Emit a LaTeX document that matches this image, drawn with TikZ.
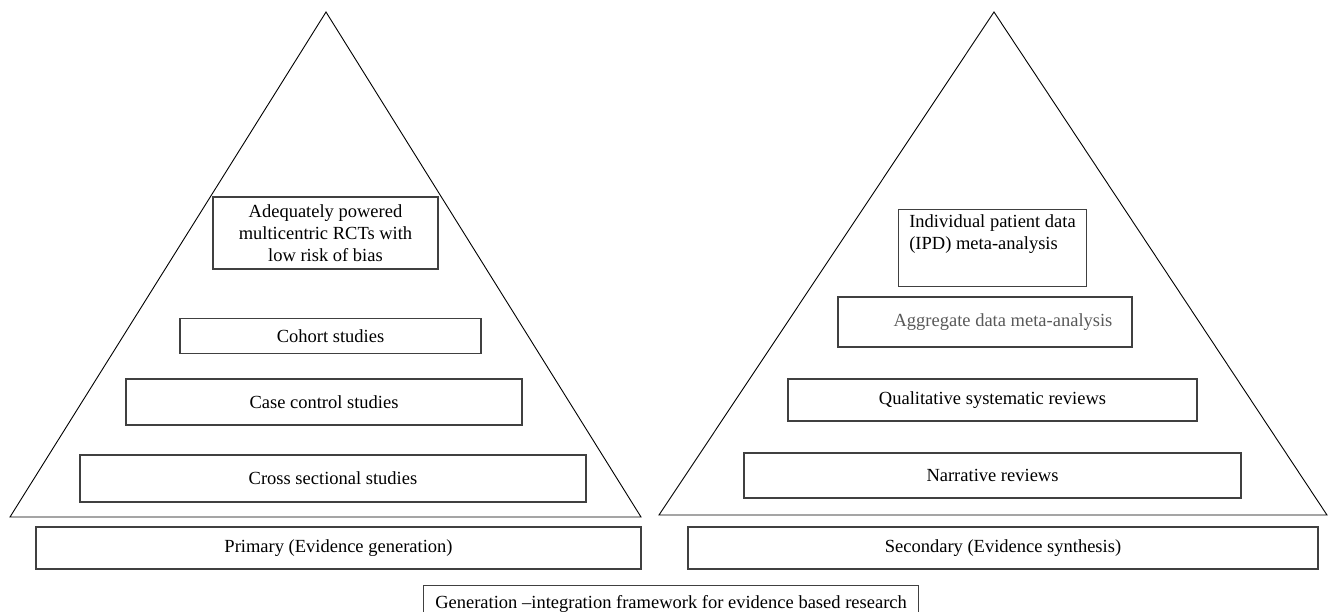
\documentclass[tikz,border=0pt]{standalone}
\usepackage{fontspec}
\setmainfont{Liberation Serif}
\usetikzlibrary{calc}

\tikzset{
  lvlbox/.style={draw=black!75,line width=1.1pt,inner sep=0pt,align=center,
    font=\fontsize{18.5}{22}\selectfont},
  pyr/.style={draw=black,line width=0.9pt}
}

\begin{document}
\begin{tikzpicture}[x=1pt,y=-1pt]
\useasboundingbox (0,0) rectangle (1328,611);

% left pyramid
\draw[pyr] (326,12) coordinate (lapex) -- (641,517) coordinate (lright) -- (10,517) coordinate (lleft) -- cycle;
\node[lvlbox,minimum width=225,minimum height=72] (rct) at (325.5,233) {Adequately powered\\multicentric RCTs with\\low risk of bias};
\node[lvlbox,minimum width=301,minimum height=35] (cohort) at (330.5,336) {Cohort studies};
\node[lvlbox,minimum width=396,minimum height=46] (casecon) at (324,402) {Case control studies};
\node[lvlbox,minimum width=506,minimum height=47] (cross) at (333,478.5) {Cross sectional studies};
\node[lvlbox,minimum width=605,minimum height=42] (primary) at (338.5,548) {Primary (Evidence generation)};

% right pyramid
\draw[pyr] (994,12) coordinate (rapex) -- (1327,515) coordinate (rright) -- (659,515) coordinate (rleft) -- cycle;
\node[lvlbox,minimum width=188,minimum height=68,align=left,anchor=north west,inner xsep=10pt,inner ysep=5pt] (ipd) at (898,209) {Individual patient data\\(IPD) meta-analysis\\[10pt]};
\node[lvlbox,minimum width=294,minimum height=50,text=black!65] (aggr) at (985,322) {\hspace{36pt}Aggregate data meta-analysis};
\node[lvlbox,minimum width=409,minimum height=42] (qual) at (992.5,400) {Qualitative systematic reviews};
\node[lvlbox,minimum width=497,minimum height=45] (narr) at (992.5,475.5) {Narrative reviews};
\node[lvlbox,minimum width=630,minimum height=42] (secondary) at (1003,548) {Secondary (Evidence synthesis)};

% framework
\node[lvlbox,minimum width=495,minimum height=36,anchor=north west] (frame) at (423,585) {Generation --integration framework for evidence based research};

\end{tikzpicture}
\end{document}
